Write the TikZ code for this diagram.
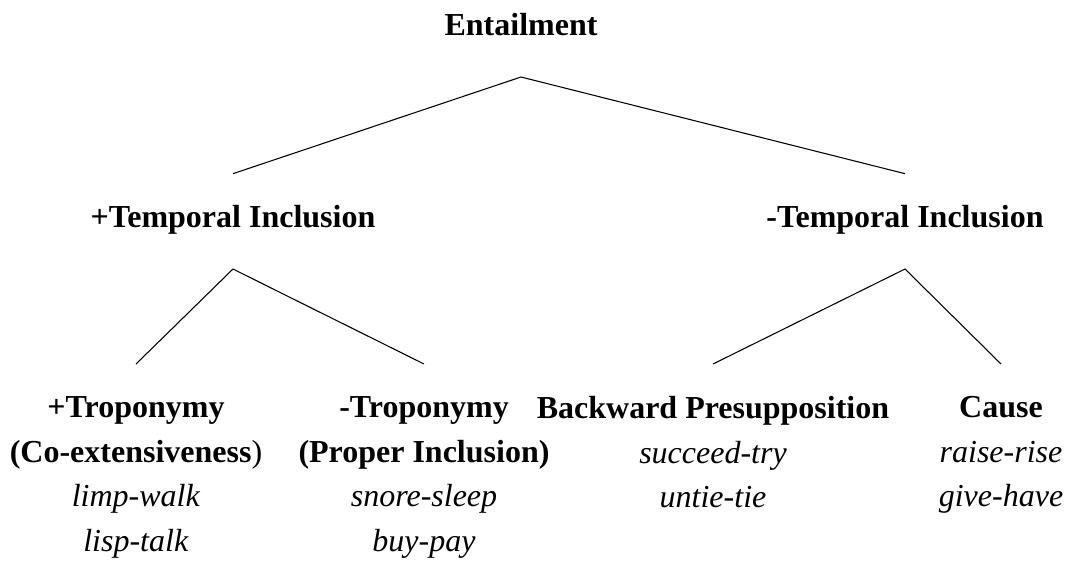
\documentclass[tikz,border=0pt]{standalone}
\usepackage{fontspec}
\setmainfont{Liberation Serif}
\usepackage{tikz}
\usetikzlibrary{positioning}

\begin{document}
\begin{tikzpicture}[x=0.375pt, y=-0.375pt,
    every node/.style={inner sep=0pt, anchor=base, font=\fontsize{12}{16.7}\selectfont},
    cat/.style={font=\fontsize{12}{16.7}\selectfont\bfseries},
    leaf/.style={align=center, anchor=north}]
    \useasboundingbox (0,0) rectangle (1065,569);

    \node [cat] (ent) at (521,35) {Entailment};
    \node [cat] (tplus) at (233,227) {+Temporal Inclusion};
    \node [cat] (tminus) at (905,227) {-Temporal Inclusion};

    \node [leaf] (tropplus) at (136,396) {\textbf{+Troponymy}\\\textbf{(Co-extensiveness})\\\textit{limp-walk}\\\textit{lisp-talk}};
    \node [leaf] (tropminus) at (424,396) {\textbf{-Troponymy}\\\textbf{(Proper Inclusion)}\\\textit{snore-sleep}\\\textit{buy-pay}};
    \node [leaf] (backp) at (713,396) {\textbf{Backward Presupposition}\\\textit{succeed-try}\\\textit{untie-tie}};
    \node [leaf] (cause) at (1001,396) {\textbf{Cause}\\\textit{raise-rise}\\\textit{give-have}};

    \draw ([yshift=20pt]tplus.base) -- ([yshift=-15.75pt]ent.base) -- ([yshift=20pt]tminus.base);
    \draw ([yshift=12pt]tropplus.north) -- ([yshift=-15.75pt]tplus.base) -- ([yshift=12pt]tropminus.north);
    \draw ([yshift=12pt]backp.north) -- ([yshift=-15.75pt]tminus.base) -- ([yshift=12pt]cause.north);
\end{tikzpicture}
\end{document}
